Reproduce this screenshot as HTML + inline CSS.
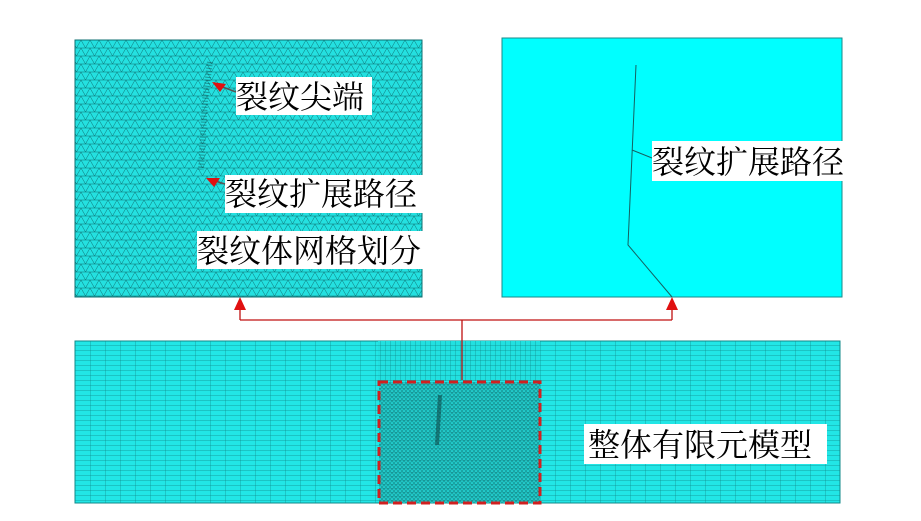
<!DOCTYPE html><html><head><meta charset="utf-8"><style>
body{margin:0;background:#fff;width:921px;height:516px;overflow:hidden}
svg text{font-family:"Liberation Serif","Noto Serif CJK SC",serif}
</style></head><body>
<svg width="921" height="516" viewBox="0 0 921 516">
<defs>
<pattern id="tri" width="9" height="8" patternUnits="userSpaceOnUse">
<rect width="9" height="8" fill="#24e0e0"/>
<path d="M0 0H9M0 0L4.5 8L9 0M0 8H9" stroke="#0d6f70" stroke-width="0.5" fill="none"/>
</pattern>
<pattern id="fine" width="4" height="4" patternUnits="userSpaceOnUse">
<rect width="4" height="4" fill="#22caca"/>
<path d="M0 0H4M0 0L2 4L4 0" stroke="#0b6060" stroke-width="0.4" fill="none"/>
</pattern>
<pattern id="rect" width="15" height="5" patternUnits="userSpaceOnUse">
<rect width="15" height="5" fill="#22e6e6"/>
<path d="M0 0H15M0 0V5" stroke="#108a8a" stroke-width="0.7"/>
</pattern>
<pattern id="rect2" width="5" height="5" patternUnits="userSpaceOnUse">
<rect width="5" height="5" fill="#22e0e0"/>
<path d="M0 0H5M0 0V5" stroke="#108a8a" stroke-width="0.7"/>
</pattern>
</defs>
<rect x="75" y="40" width="347" height="257" fill="url(#tri)" stroke="#0d6f70"/>
<path d="M210 62 L205 100 L201 170" stroke="#0a3a3a" stroke-width="6" stroke-dasharray="1,2" opacity="0.45" fill="none"/>
<rect x="236" y="77" width="136" height="38" fill="#fff"/>
<text x="236" y="108" font-size="32">裂纹尖端</text>
<rect x="225" y="175" width="205" height="38" fill="#fff"/>
<text x="225" y="205" font-size="32">裂纹扩展路径</text>
<rect x="197" y="231" width="235" height="38" fill="#fff"/>
<text x="197" y="262" font-size="32">裂纹体网格划分</text>
<line x1="236" y1="92" x2="220" y2="86" stroke="#555" stroke-width="1.5"/>
<polygon points="212,82 226,84 220,92" fill="#e01010"/>
<line x1="225" y1="184" x2="215" y2="181" stroke="#555" stroke-width="1.5"/>
<polygon points="206,178 220,178 214,187" fill="#e01010"/>
<rect x="502" y="38" width="340" height="259" fill="#00ffff" stroke="#1a8a8a"/>
<path d="M636 65 L628 245 L672 297" stroke="#156060" stroke-width="1" fill="none"/>
<rect x="652" y="141" width="196" height="40" fill="#fff"/>
<line x1="632" y1="150" x2="652" y2="158" stroke="#156060"/>
<text x="652" y="173" font-size="32">裂纹扩展路径</text>
<rect x="75" y="341" width="765" height="162" fill="url(#rect)" stroke="#108a8a"/>
<rect x="378" y="341" width="162" height="40" fill="url(#rect2)"/>
<rect x="379" y="382" width="161" height="121" fill="url(#fine)"/>
<path d="M440 395 L437 445" stroke="#0a3a3a" stroke-width="4" opacity="0.5"/>
<rect x="379" y="382" width="161" height="121" fill="none" stroke="#d02020" stroke-width="3" stroke-dasharray="9,5"/>
<rect x="584" y="424" width="243" height="40" fill="#fff"/>
<text x="588" y="456" font-size="32">整体有限元模型</text>
<path d="M462 380V320M240 320H672M240 320V308M672 320V308" stroke="#c01010" stroke-width="1.3" fill="none"/>
<polygon points="240,297 234,310 246,310" fill="#e01010"/>
<polygon points="672,297 666,310 678,310" fill="#e01010"/>
</svg>
</body></html>
